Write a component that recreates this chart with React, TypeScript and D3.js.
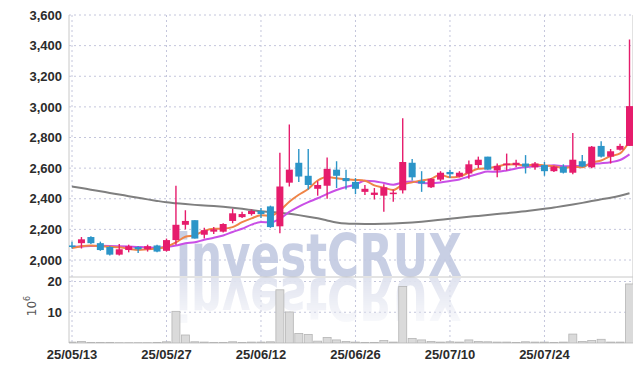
import React from "react";
import { scaleLinear, scalePoint, line, curveMonotoneX } from "d3";

const dates = [
  "25/05/13", "25/05/14", "25/05/15", "25/05/16", "25/05/19", "25/05/20", "25/05/21", "25/05/22", "25/05/23", "25/05/26",
  "25/05/27", "25/05/28", "25/05/29", "25/05/30", "25/06/02", "25/06/04", "25/06/05", "25/06/09", "25/06/10", "25/06/11",
  "25/06/12", "25/06/13", "25/06/16", "25/06/17", "25/06/18", "25/06/19", "25/06/20", "25/06/23", "25/06/24", "25/06/25",
  "25/06/26", "25/06/27", "25/06/30", "25/07/01", "25/07/02", "25/07/03", "25/07/04", "25/07/07", "25/07/08", "25/07/09",
  "25/07/10", "25/07/11", "25/07/14", "25/07/15", "25/07/16", "25/07/17", "25/07/18", "25/07/21", "25/07/22", "25/07/23",
  "25/07/24", "25/07/25", "25/07/28", "25/07/29", "25/07/30", "25/07/31", "25/08/01", "25/08/04", "25/08/05", "25/08/06",
];

const open = [
  2095, 2110, 2150, 2110, 2085, 2035, 2065, 2085, 2070, 2095,
  2060, 2130, 2230, 2260, 2165, 2185, 2185, 2255, 2280, 2300,
  2320, 2350, 2220, 2505, 2635, 2550, 2465, 2485, 2590, 2535,
  2510, 2445, 2425, 2420, 2430, 2455, 2635, 2515, 2475, 2525,
  2575, 2545, 2565, 2620, 2675, 2585, 2620, 2620, 2630, 2605,
  2620, 2580, 2610, 2570, 2645, 2605, 2745, 2675, 2720, 2745,
];
const high = [
  2120, 2150, 2155, 2120, 2090, 2105, 2100, 2090, 2100, 2100,
  2140, 2485, 2325, 2260, 2210, 2215, 2240, 2335, 2315, 2330,
  2340, 2355, 2700, 2885, 2725, 2725, 2515, 2670, 2645, 2590,
  2535, 2490, 2470, 2495, 2460, 2925, 2660, 2580, 2535, 2580,
  2590, 2580, 2650, 2675, 2675, 2630, 2695, 2655, 2685, 2640,
  2640, 2615, 2625, 2830, 2685, 2745, 2775, 2725, 2760, 3440,
];
const low = [
  2075, 2075, 2105, 2060, 2030, 2030, 2050, 2045, 2055, 2050,
  2055, 2100, 2200, 2140, 2140, 2170, 2180, 2240, 2275, 2290,
  2275, 2210, 2175, 2480, 2510, 2460, 2420, 2400, 2470, 2460,
  2430, 2425, 2395, 2315, 2380, 2435, 2520, 2445, 2470, 2515,
  2535, 2540, 2530, 2600, 2590, 2540, 2585, 2605, 2565, 2590,
  2550, 2575, 2565, 2560, 2605, 2600, 2670, 2630, 2715, 2745,
];
const close = [
  2085, 2135, 2110, 2065, 2035, 2070, 2090, 2070, 2090, 2055,
  2130, 2230, 2255, 2140, 2195, 2200, 2235, 2305, 2300, 2320,
  2300, 2215, 2480, 2590, 2545, 2490, 2490, 2595, 2550, 2515,
  2465, 2465, 2440, 2475, 2440, 2640, 2540, 2500, 2530, 2570,
  2560, 2570, 2625, 2655, 2590, 2615, 2630, 2635, 2610, 2630,
  2580, 2610, 2570, 2655, 2610, 2740, 2675, 2710, 2745, 3005,
];

// moving averages
const ma5 = [
  2078, 2090, 2095, 2090, 2086, 2083, 2074, 2066, 2071, 2075,
  2087, 2115, 2152, 2162, 2190, 2204, 2205, 2215, 2247, 2272,
  2292, 2288, 2323, 2381, 2426, 2464, 2519, 2542, 2534, 2528,
  2523, 2518, 2487, 2472, 2457, 2492, 2507, 2519, 2530, 2556,
  2540, 2546, 2571, 2596, 2600, 2611, 2623, 2625, 2616, 2624,
  2617, 2613, 2600, 2609, 2605, 2637, 2650, 2678, 2696, 2775,
];
const ma10 = [
  2085, 2088, 2092, 2093, 2092, 2090, 2088, 2085, 2082, 2080,
  2085, 2094, 2109, 2116, 2132, 2145, 2160, 2183, 2204, 2231,
  2248, 2246, 2269, 2314, 2349, 2378, 2403, 2432, 2457, 2477,
  2493, 2518, 2514, 2503, 2492, 2507, 2512, 2503, 2501, 2506,
  2516, 2526, 2545, 2563, 2578, 2576, 2585, 2598, 2606, 2612,
  2614, 2618, 2613, 2613, 2615, 2627, 2632, 2639, 2653, 2690,
];
const maLong = [
  2480, 2470, 2459, 2449, 2438, 2428, 2417, 2407, 2396, 2386,
  2377, 2371, 2365, 2360, 2356, 2352, 2347, 2341, 2334, 2326,
  2318, 2313, 2309, 2302, 2293, 2283, 2272, 2258, 2245, 2238,
  2236, 2235, 2235, 2236, 2238, 2241, 2245, 2250, 2256, 2263,
  2270, 2276, 2282, 2288, 2294, 2300, 2306, 2312, 2319, 2326,
  2334, 2343, 2352, 2362, 2373, 2385, 2396, 2407, 2420, 2436,
];

// volume, in millions
const volume = [
  0.3, 0.5, 0.2, 0.2, 0.2, 0.1, 0.1, 0.1, 0.1, 0.2,
  0.4, 10.3, 2.6, 0.4, 0.3, 0.2, 0.2, 0.4, 0.2, 0.3,
  0.3, 0.4, 17.3, 10.1, 3.1, 2.8, 0.6, 1.8, 1.0, 0.5,
  0.3, 0.2, 0.2, 0.8, 0.3, 18.4, 1.5, 1.0, 0.5, 0.3,
  0.4, 0.3, 1.0, 0.5, 0.4, 0.3, 0.3, 0.2, 0.4, 0.3,
  0.3, 0.2, 0.3, 2.9, 0.5, 0.8, 1.2, 0.3, 0.3, 19.2,
];

const priceTicks = [2000, 2200, 2400, 2600, 2800, 3000, 3200, 3400, 3600];
const volTicks = [10, 20];
const dateTicks = ["25/05/13", "25/05/27", "25/06/12", "25/06/26", "25/07/10", "25/07/24"];

const W = 642;
const H = 371;
const left = 69;
const right = 633;
const top = 15;
const divider = 277;
const bottom = 343;

const UP = "#e61c6c";
const DOWN = "#2c95c8";
const GRID = "#c4c6dc";
const AXIS_FONT = "'Liberation Sans', Arial, sans-serif";

export default function App() {
  const x = scalePoint<string>().domain(dates).range([72, 629.5]);
  const y = scaleLinear().domain([2000, 3600]).range([260, top]);
  const yv = scaleLinear().domain([0, 20]).range([bottom, 281.5]);

  const maLine = (vals: number[]) =>
    line<number>()
      .x((_, i) => x(dates[i])!)
      .y(d => y(d))
      .curve(curveMonotoneX)(vals)!;

  const bodyW = 7;
  const volW = 8;

  return (
    <svg
      width={W}
      height={H}
      style={{ position: "fixed", left: 0, top: 0, background: "#fff" }}
    >
      <defs>
        <linearGradient id="fade" x1="0" y1="0" x2="0" y2="1">
          <stop offset="0" stopColor="#fff" stopOpacity={1} />
          <stop offset="1" stopColor="#fff" stopOpacity={0.15} />
        </linearGradient>
        <mask id="reflMask" maskUnits="userSpaceOnUse" x={0} y={277} width={W} height={60}>
          <rect x={0} y={277} width={W} height={50} fill="url(#fade)" />
        </mask>
        <clipPath id="priceClip">
          <rect x={left} y={top} width={right - left} height={divider - top} />
        </clipPath>
        <clipPath id="volClip">
          <rect x={left} y={divider} width={right - left} height={bottom - divider} />
        </clipPath>
      </defs>

      {/* grid */}
      {priceTicks.map(t => (
        <line key={"gp" + t} x1={left} x2={right} y1={y(t)} y2={y(t)}
          stroke={GRID} strokeDasharray="2,3" strokeWidth={1} />
      ))}
      {volTicks.map(t => (
        <line key={"gv" + t} x1={left} x2={right} y1={yv(t)} y2={yv(t)}
          stroke={GRID} strokeDasharray="2,3" strokeWidth={1} />
      ))}
      {dateTicks.map(d => (
        <line key={"gx" + d} x1={x(d)} x2={x(d)} y1={top} y2={bottom}
          stroke={GRID} strokeDasharray="2,3" strokeWidth={1} />
      ))}

      {/* watermark + its reflection */}
      <g fontFamily="'DejaVu Sans', sans-serif" fontWeight="bold" fontSize={58}>
        <text x={176} y={276} fill="#c3cae2" opacity={0.9} textLength={286} lengthAdjust="spacingAndGlyphs">
          investCRUX
        </text>
        <g clipPath="url(#volClip)" mask="url(#reflMask)">
          <text x={176} y={276} fill="#e0e3ef" textLength={286} lengthAdjust="spacingAndGlyphs"
            transform="translate(0, 554) scale(1, -1)">
            investCRUX
          </text>
        </g>
      </g>

      {/* frame */}
      <line x1={left} x2={left} y1={top} y2={bottom} stroke="#c8c8c8" />
      <line x1={right - 0.5} x2={right - 0.5} y1={top} y2={bottom} stroke="#e2e2e2" />
      <line x1={left} x2={right} y1={divider} y2={divider} stroke="#c8c8c8" />
      <line x1={left} x2={right} y1={bottom} y2={bottom} stroke="#c8c8c8" />

      {/* volume */}
      <g clipPath="url(#volClip)">
        {volume.map((v, i) => (
          <rect key={"v" + i} x={x(dates[i])! - volW / 2} y={yv(v)} width={volW}
            height={bottom - yv(v)} fill="#dadada" stroke="#b5b5b5" strokeWidth={0.8} />
        ))}
      </g>

      {/* moving averages */}
      <g clipPath="url(#priceClip)" fill="none" strokeLinejoin="round">
        <path d={maLine(maLong)} stroke="#7f7f7f" strokeWidth={2} />
        <path d={maLine(ma10)} stroke="#c94fe6" strokeWidth={2} />
        <path d={maLine(ma5)} stroke="#ef8447" strokeWidth={2} />
      </g>

      {/* candles */}
      <g clipPath="url(#priceClip)">
        {dates.map((d, i) => {
          const up = close[i] >= open[i];
          const c = up ? UP : DOWN;
          const cx = x(d)!;
          const yTop = y(Math.max(open[i], close[i]));
          const yBot = y(Math.min(open[i], close[i]));
          return (
            <g key={"c" + i}>
              <line x1={cx} x2={cx} y1={y(high[i])} y2={y(low[i])} stroke={c} strokeWidth={1.4} />
              <rect x={cx - bodyW / 2} y={yTop} width={bodyW} height={Math.max(1.5, yBot - yTop)} fill={c} />
            </g>
          );
        })}
      </g>

      {/* y axis labels */}
      <g fontFamily={AXIS_FONT} fontWeight="bold" fontSize={13} fill="#2b2b2b" textAnchor="end">
        {priceTicks.map(t => (
          <text key={"yl" + t} x={62} y={y(t)} dy="0.36em">{t.toLocaleString("en-US")}</text>
        ))}
        {volTicks.map(t => (
          <text key={"vl" + t} x={62} y={yv(t)} dy="0.36em">{t}</text>
        ))}
      </g>
      <text transform="translate(36, 306) rotate(-90)" fontFamily="'DejaVu Sans', sans-serif" fontSize={12}
        fill="#555" textAnchor="middle">
        10<tspan dy={-6} fontSize={8}>6</tspan>
      </text>

      {/* x axis labels */}
      <g fontFamily={AXIS_FONT} fontWeight="bold" fontSize={13} fill="#2b2b2b" textAnchor="middle">
        {dateTicks.map(d => (
          <text key={"xl" + d} x={x(d)} y={359}>{d}</text>
        ))}
      </g>
    </svg>
  );
}
